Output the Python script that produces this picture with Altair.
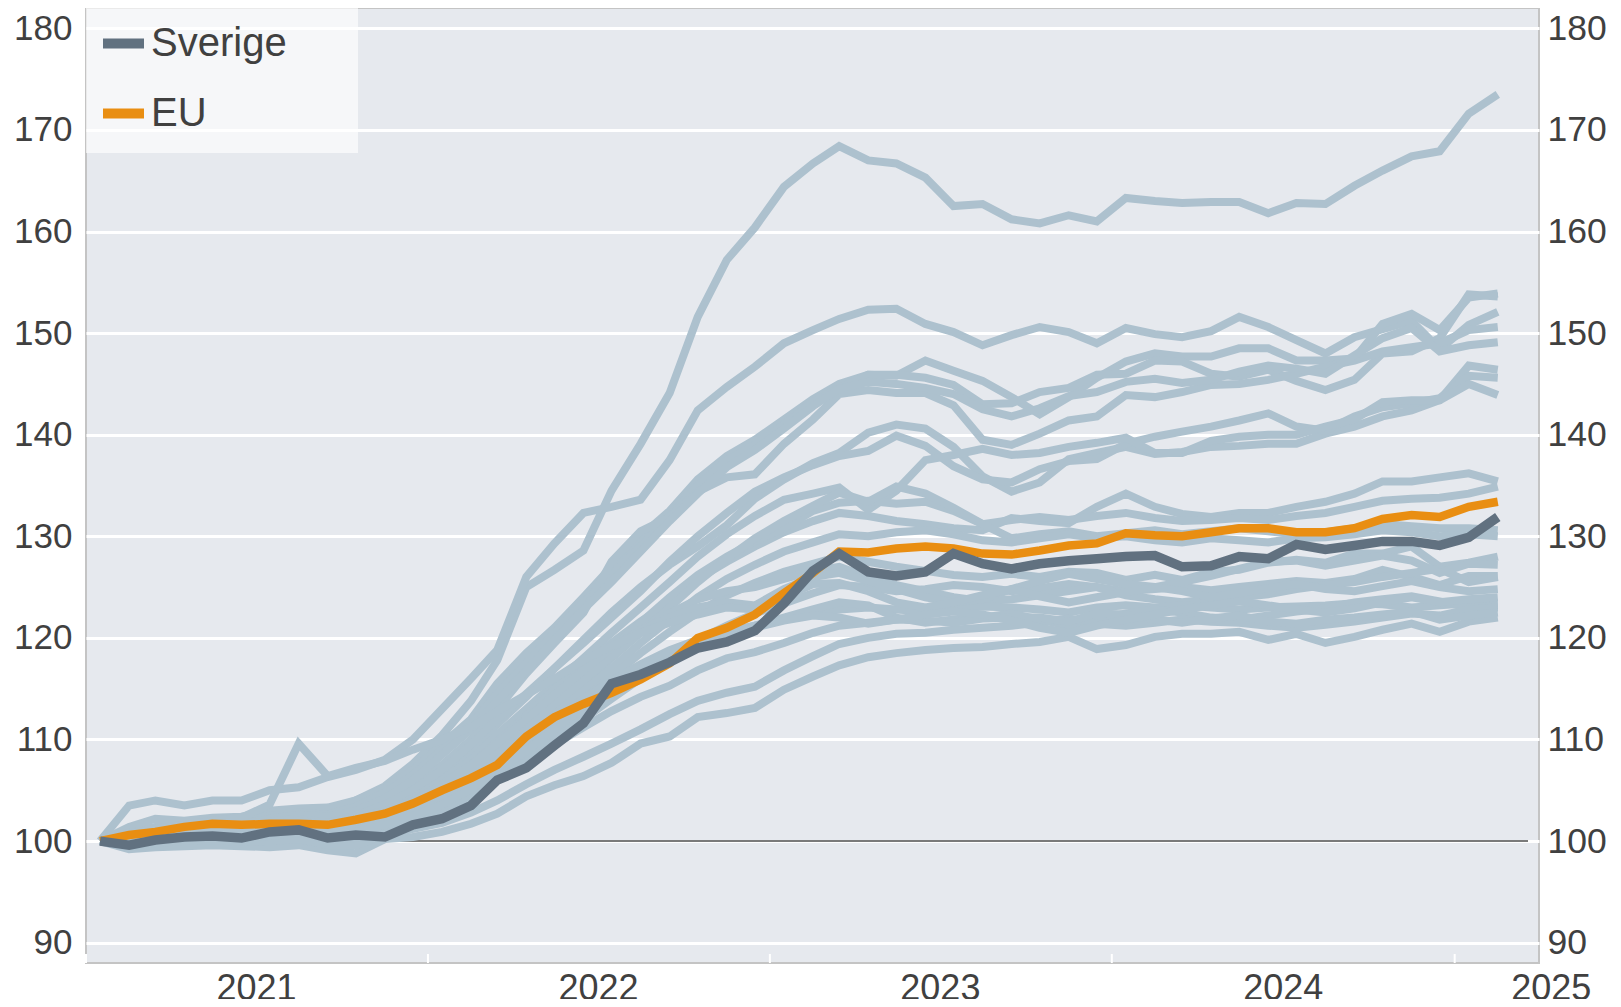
import altair as alt
import pandas as pd

# ---------------- data ----------------
months = [f"{y}-{m:02d}-16" for y in range(2021, 2026) for m in range(1, 13)][:50]

sverige = [100.0, 99.6, 100.1, 100.4, 100.5, 100.3, 100.9, 101.1, 100.3, 100.6, 100.4, 101.6,
           102.2, 103.5, 106.0, 107.2, 109.4, 111.6, 115.5, 116.4, 117.6, 119.0, 119.6, 120.7,
           123.4, 126.6, 128.3, 126.5, 126.1, 126.5, 128.3, 127.3, 126.8, 127.3, 127.6, 127.8,
           128.0, 128.1, 127.0, 127.1, 128.0, 127.8, 129.2, 128.7, 129.1, 129.5, 129.5, 129.1, 129.9, 131.9]
eu = [100.0, 100.6, 100.9, 101.4, 101.7, 101.6, 101.7, 101.7, 101.6, 102.1, 102.7, 103.7,
      105.0, 106.2, 107.5, 110.3, 112.2, 113.5, 114.6, 115.9, 117.5, 120.0, 121.0, 122.3,
      124.4, 126.4, 128.5, 128.4, 128.8, 129.0, 128.8, 128.3, 128.2, 128.6, 129.1, 129.3,
      130.3, 130.1, 130.0, 130.4, 130.8, 130.8, 130.4, 130.4, 130.8, 131.7, 132.1, 131.9, 132.9, 133.4]

line_01 = [100.0, 100.9, 101.4, 101.6, 102.0, 102.2, 102.8, 103.1, 103.0, 104.0, 105.4, 107.6,
           110.4, 113.8, 117.8, 125.0, 126.7, 128.6, 134.5, 139.1, 144.1, 151.6, 157.2, 160.4,
           164.4, 166.7, 168.4, 167.0, 166.7, 165.3, 162.5, 162.7, 161.2, 160.8, 161.6, 161.0,
           163.3, 163.0, 162.8, 162.9, 162.9, 161.8, 162.8, 162.7, 164.5, 166.0, 167.4, 167.9, 171.6, 173.5]
line_02 = [100.0, 103.5, 104.0, 103.5, 104.0, 104.0, 105.0, 105.3, 106.3, 107.0, 108.0, 110.0,
           113.0, 116.0, 118.8, 126.0, 129.3, 132.3, 132.9, 133.6, 137.5, 142.4, 144.7, 146.7,
           149.0, 150.3, 151.4, 152.3, 152.4, 150.9, 150.1, 148.8, 149.8, 150.6, 150.1, 149.0,
           150.5, 149.9, 149.6, 150.2, 151.6, 150.6, 149.3, 148.0, 149.6, 150.4, 151.2, 148.4, 150.8, 152.1]
line_03 = [100.0, 101.4, 102.2, 102.0, 102.3, 102.4, 103.0, 103.2, 103.3, 104.0, 105.2, 107.0,
           109.5, 112.0, 115.5, 118.5, 121.0, 124.0, 127.0, 130.0, 132.5, 135.6, 137.9, 139.5,
           141.5, 143.5, 145.0, 145.9, 145.8, 147.3, 146.3, 145.3, 143.7, 142.0, 143.7, 145.6,
           147.2, 148.0, 147.7, 147.7, 148.5, 148.5, 147.3, 147.3, 147.5, 150.9, 151.9, 150.3, 153.5, 153.9]
line_04 = [100.0, 100.8, 101.2, 101.6, 101.8, 102.0, 102.5, 102.8, 102.6, 103.4, 104.8, 106.5,
           109.0, 111.5, 114.5, 117.5, 120.5, 123.5, 126.2, 129.0, 132.0, 135.0, 137.5, 139.0,
           141.0, 143.2, 144.6, 145.9, 145.9, 145.6, 144.9, 143.0, 143.1, 144.2, 144.6, 145.9,
           146.0, 147.3, 147.2, 146.0, 145.7, 146.4, 145.3, 144.4, 145.4, 148.0, 148.2, 149.5, 153.8, 153.6]
line_05 = [100.0, 100.4, 100.9, 101.3, 101.5, 101.6, 102.0, 102.4, 102.0, 102.6, 103.8, 105.5,
           107.5, 110.0, 113.0, 116.5, 119.5, 122.5, 127.5, 130.5, 131.9, 134.4, 135.8, 136.1,
           139.1, 141.5, 144.0, 144.4, 144.1, 144.1, 142.9, 139.5, 139.0, 140.1, 141.4, 141.8,
           143.9, 143.7, 144.2, 144.9, 145.0, 145.4, 146.0, 146.7, 147.3, 148.2, 148.6, 149.0, 150.3, 150.6]
line_06 = [100.0, 100.6, 101.0, 101.2, 101.5, 101.7, 102.2, 102.6, 102.4, 103.0, 104.2, 106.0,
           108.5, 111.0, 113.8, 116.8, 119.8, 122.8, 125.5, 128.5, 131.5, 134.2, 136.8, 138.5,
           140.6, 142.8, 144.5, 145.2, 145.0, 144.6, 144.0, 142.5, 141.8, 142.6, 143.8, 144.2,
           145.2, 145.5, 145.1, 145.4, 146.2, 146.8, 146.5, 146.0, 147.8, 149.5, 150.5, 148.2, 148.8, 149.1]
line_07 = [100.0, 100.3, 100.6, 100.9, 101.1, 101.2, 101.6, 101.8, 101.6, 102.2, 103.2, 104.6,
           106.5, 108.8, 111.5, 114.2, 117.0, 119.8, 122.5, 125.0, 127.2, 129.0, 131.1, 133.7,
           135.6, 137.2, 138.2, 140.2, 141.0, 140.6, 138.8, 135.9, 134.4, 135.3, 137.6, 138.2,
           138.8, 138.1, 138.3, 138.8, 138.9, 139.1, 139.1, 140.1, 140.8, 141.8, 142.4, 143.4, 146.8, 146.4]
line_08 = [100.0, 100.5, 100.7, 101.0, 101.3, 101.3, 101.8, 102.0, 101.8, 102.5, 103.6, 105.0,
           107.0, 109.5, 112.0, 114.5, 117.0, 119.5, 122.0, 124.6, 127.5, 130.0, 132.3, 134.4,
           135.8, 137.0, 137.9, 138.4, 139.9, 138.9, 136.9, 135.6, 135.3, 136.6, 137.4, 137.6,
           139.1, 139.8, 140.3, 140.8, 141.4, 142.1, 140.8, 140.4, 141.8, 142.7, 143.1, 143.6, 145.8, 145.6]
line_09 = [100.0, 100.2, 100.5, 100.8, 101.0, 101.0, 101.4, 101.6, 101.4, 102.0, 102.9, 104.2,
           106.0, 108.0, 110.5, 113.0, 115.5, 118.0, 120.5, 123.0, 125.5, 128.0, 130.2, 132.0,
           133.6, 134.2, 134.8, 132.6, 134.5, 137.5, 138.0, 138.6, 138.0, 138.2, 138.8, 139.2,
           139.7, 138.2, 138.2, 139.4, 139.8, 140.0, 140.0, 140.8, 141.5, 143.2, 143.4, 143.4, 145.0, 143.9]
line_10 = [100.0, 100.6, 101.0, 101.1, 101.4, 101.3, 101.9, 102.2, 101.8, 102.3, 103.0, 104.0,
           105.5, 107.5, 109.8, 112.3, 115.0, 117.2, 119.5, 121.6, 123.5, 125.8, 127.5, 129.0,
           130.4, 131.5, 132.3, 132.0, 131.5, 131.2, 130.8, 130.6, 131.8, 131.5, 131.3, 132.9,
           134.2, 132.9, 132.2, 131.9, 132.3, 132.3, 132.9, 133.4, 134.2, 135.4, 135.4, 135.8, 136.2, 135.4]
line_11 = [100.0, 100.2, 100.4, 100.7, 100.9, 100.8, 101.3, 101.5, 101.0, 101.6, 102.5, 103.6,
           105.0, 107.0, 109.0, 111.5, 114.0, 116.5, 119.0, 121.5, 124.0, 126.2, 128.0, 129.5,
           130.8, 132.5, 133.3, 133.5, 133.2, 133.4, 132.5, 131.2, 131.6, 131.9, 131.6, 132.0,
           132.3, 131.8, 131.5, 131.6, 131.8, 131.6, 132.0, 132.3, 132.9, 133.5, 133.7, 133.8, 134.2, 134.9]
line_12 = [100.0, 100.0, 100.3, 100.6, 100.8, 100.7, 101.2, 101.5, 100.9, 101.3, 102.2, 103.2,
           104.5, 106.5, 108.5, 110.8, 113.2, 115.5, 118.0, 120.5, 123.0, 125.5, 127.8, 129.8,
           131.5, 133.0, 134.3, 133.4, 134.9, 134.2, 132.8, 131.2, 129.8, 130.2, 130.5, 130.0,
           130.3, 130.6, 130.2, 130.5, 130.8, 130.5, 130.2, 130.4, 130.8, 131.2, 131.0, 130.8, 130.8, 130.6]
line_13 = [100.0, 99.8, 100.2, 100.4, 100.6, 100.5, 100.9, 101.1, 100.6, 101.0, 101.8, 102.8,
           104.0, 105.8, 107.8, 110.0, 112.5, 114.8, 117.0, 119.5, 121.8, 124.0, 125.8, 127.2,
           128.5, 129.4, 130.2, 130.0, 130.4, 130.6, 130.2, 129.6, 129.4, 129.8, 130.2, 129.8,
           130.0, 129.6, 129.4, 129.8, 129.6, 129.4, 129.8, 129.9, 130.2, 130.6, 130.4, 130.0, 130.2, 130.0]
line_14 = [100.0, 100.1, 100.5, 100.7, 100.9, 100.9, 101.3, 101.6, 101.2, 101.4, 102.0, 102.8,
           103.8, 105.5, 107.5, 109.5, 111.8, 114.0, 116.2, 118.5, 120.6, 122.5, 124.2, 125.4,
           126.5, 127.3, 128.0, 127.5, 127.0, 126.6, 126.2, 126.0, 126.3, 126.0, 126.5, 126.4,
           125.7, 126.2, 125.7, 126.5, 126.7, 127.4, 127.7, 127.4, 128.3, 128.3, 129.0, 127.0, 127.4, 128.0]
line_15 = [100.0, 99.6, 99.9, 100.2, 100.4, 100.3, 100.7, 101.0, 100.3, 100.5, 101.0, 101.8,
           102.8, 104.2, 106.0, 108.0, 110.0, 112.0, 114.0, 116.0, 118.0, 119.8, 121.2, 122.4,
           123.4, 124.4, 125.2, 125.0, 124.6, 124.8, 125.2, 125.0, 124.6, 124.9, 125.3, 125.0,
           124.6, 124.8, 125.0, 124.7, 125.0, 125.3, 125.6, 125.4, 125.8, 126.7, 126.0, 125.2, 126.1, 126.1]
line_16 = [100.0, 100.3, 100.6, 100.9, 101.0, 101.1, 101.5, 101.8, 101.5, 101.8, 102.6, 103.5,
           105.0, 106.8, 108.8, 111.0, 113.5, 115.8, 118.2, 120.5, 122.4, 123.8, 124.6, 125.0,
           125.8, 126.6, 127.0, 126.0, 125.2, 124.6, 124.0, 123.6, 123.8, 124.2, 124.6, 125.0,
           124.2, 123.8, 123.5, 123.8, 124.0, 124.3, 124.8, 125.2, 125.5, 126.0, 126.4, 126.8, 125.5, 126.0]
line_17 = [100.0, 99.8, 100.0, 100.3, 100.5, 100.4, 100.8, 101.0, 100.5, 100.8, 101.4, 102.2,
           103.2, 104.6, 106.3, 108.2, 110.2, 112.3, 114.4, 116.4, 118.2, 119.6, 120.6, 121.2,
           121.8, 122.4, 122.8, 123.0, 122.8, 122.6, 122.9, 123.1, 123.0, 122.8, 122.5, 123.0,
           123.2, 123.0, 123.2, 123.0, 122.8, 123.0, 123.1, 123.2, 123.4, 123.3, 123.0, 123.2, 123.4, 123.4]
line_18 = [100.0, 100.0, 100.3, 100.5, 100.7, 100.6, 101.0, 101.2, 100.8, 101.2, 101.9, 102.9,
           104.3, 106.0, 108.0, 110.0, 112.0, 114.0, 115.8, 117.4, 118.8, 119.8, 120.5, 121.2,
           122.0, 122.8, 123.5, 123.2, 122.0, 121.5, 121.8, 122.0, 122.4, 121.8, 121.2, 121.8,
           122.4, 122.8, 122.5, 122.0, 121.8, 122.2, 122.6, 122.9, 123.5, 123.8, 124.1, 123.6, 123.0, 123.2]
line_19 = [100.0, 99.2, 99.4, 99.5, 99.6, 99.5, 99.4, 99.6, 99.1, 98.8, 100.2, 100.4,
           100.9, 101.7, 102.7, 104.4, 105.5, 106.4, 107.7, 109.6, 110.3, 112.2, 112.6, 113.1,
           114.9, 116.2, 117.3, 118.1, 118.5, 118.8, 119.0, 119.1, 119.4, 119.6, 120.1, 118.9,
           119.3, 120.1, 120.4, 120.4, 120.6, 119.8, 120.4, 119.5, 120.1, 120.8, 121.4, 120.6, 121.6, 122.0]
line_20 = [100.0, 99.6, 99.8, 100.0, 100.1, 99.9, 100.0, 100.2, 99.6, 99.6, 100.6, 101.2,
           101.8, 102.8, 104.0, 105.6, 107.0, 108.3, 109.6, 111.0, 112.5, 113.8, 114.6, 115.2,
           116.8, 118.2, 119.4, 120.0, 120.4, 120.5, 120.8, 121.0, 121.2, 121.5, 121.9, 121.4,
           121.2, 121.5, 121.8, 121.6, 121.5, 121.2, 121.0, 121.3, 121.6, 122.0, 122.4, 122.2, 122.8, 123.0]
line_21 = [100.0, 100.2, 100.1, 100.3, 100.5, 100.3, 100.5, 100.8, 100.1, 100.3, 101.1, 101.9,
           103.0, 104.5, 106.0, 107.8, 109.5, 111.2, 112.8, 114.2, 115.3, 116.8, 118.0, 118.6,
           119.5, 120.5, 121.2, 121.5, 121.8, 121.7, 121.5, 121.9, 122.0, 122.0, 121.6, 122.4,
           122.3, 121.8, 121.5, 121.9, 122.2, 121.6, 121.4, 121.8, 122.0, 122.3, 122.6, 121.8, 122.2, 122.5]
line_22 = [100.0, 100.5, 100.8, 101.0, 101.2, 101.2, 101.6, 102.0, 101.6, 101.9, 102.8, 103.9,
           105.6, 107.5, 109.6, 112.0, 114.4, 116.8, 119.0, 120.8, 122.0, 123.0, 123.5, 123.2,
           124.8, 126.0, 126.4, 125.6, 124.8, 124.0, 123.5, 123.8, 124.8, 125.6, 126.3, 125.8,
           125.3, 125.0, 125.5, 126.1, 126.8, 127.5, 127.6, 127.1, 127.6, 128.1, 127.6, 126.4, 127.3, 127.2]
line_23 = [100.0, 100.7, 101.2, 101.6, 102.0, 102.3, 103.6, 109.6, 106.4, 107.2, 107.9, 109.0,
           110.0, 111.2, 112.8, 114.4, 116.0, 117.8, 119.2, 120.5, 121.5, 122.3, 123.0, 122.8,
           124.0, 125.3, 125.4, 124.6, 123.5, 123.0, 123.5, 124.2, 124.8, 124.1, 123.5, 124.0,
           124.5, 125.0, 124.6, 124.0, 124.4, 124.9, 125.3, 124.8, 124.6, 125.1, 125.6, 125.0, 124.6, 124.8]
line_24 = [100.0, 99.9, 100.4, 100.8, 100.9, 100.7, 101.1, 101.4, 100.7, 100.9, 101.6, 102.5,
           103.6, 105.1, 106.9, 108.9, 111.0, 113.1, 115.1, 117.1, 118.6, 119.8, 120.4, 121.0,
           121.7, 122.2, 122.0, 121.4, 121.8, 122.3, 122.6, 122.3, 121.7, 121.0, 120.5, 121.2,
           121.8, 122.3, 122.8, 123.2, 123.6, 123.2, 122.8, 122.5, 122.9, 123.5, 124.0, 123.5, 123.8, 124.0]

other_lines = [line_01, line_02, line_03, line_04, line_05, line_06, line_07, line_08,
               line_09, line_10, line_11, line_12, line_13, line_14, line_15, line_16,
               line_17, line_18, line_19, line_20, line_21, line_22, line_23, line_24]

series_names = ["Sverige", "EU"]
y_ticks = [90, 100, 110, 120, 130, 140, 150, 160, 170, 180]
year_ticks = ["2021-01-01", "2022-01-01", "2023-01-01", "2024-01-01", "2025-01-01"]
year_labels = ["2021", "2022", "2023", "2024", "2025"]
year_label_pos = ["2021-07-02", "2022-07-02", "2023-07-02", "2024-07-02", "2025-04-14"]

# ---------------- style ----------------
W, H = 1453, 955
GRAY = "#adc1ce"
SE_COLOR = "#617180"
EU_COLOR = "#e98e12"
TEXT = "#404040"
FONT = "Liberation Sans"
X_DOMAIN = ["2021-01-01", "2025-04-01"]
Y_DOMAIN = [88, 182]

xs = alt.Scale(domain=X_DOMAIN)
ys = alt.Scale(domain=Y_DOMAIN, nice=False, zero=False)

rows = []
for i, vals in enumerate(other_lines):
    for d, v in zip(months, vals):
        rows.append({"date": d, "value": v, "land": f"L{i+1:02d}"})
gray_df = pd.DataFrame(rows)
hl_df = pd.DataFrame(
    [{"date": d, "value": v, "series": "Sverige"} for d, v in zip(months, sverige)]
    + [{"date": d, "value": v, "series": "EU"} for d, v in zip(months, eu)]
)

left_axis = alt.Axis(orient="left", values=y_ticks, grid=True, gridColor="white", gridWidth=3,
                     domain=False, ticks=False, labelFontSize=35, labelColor=TEXT,
                     labelFont=FONT, labelPadding=14, title=None)
right_axis = alt.Axis(orient="right", values=y_ticks, grid=False, domain=False, ticks=False,
                      labelFontSize=35.5, labelColor=TEXT, labelFont=FONT, labelPadding=8,
                      title=None)

legend_box = alt.Chart(pd.DataFrame({"k": [0]})).mark_rect(
    fill="white", opacity=0.65
).encode(x=alt.value(0), x2=alt.value(272), y=alt.value(0), y2=alt.value(145))

base_rule = alt.Chart(pd.DataFrame({"v": [100]})).mark_rule(
    color="#7a7a7a", strokeWidth=2
).encode(y=alt.Y("v:Q", scale=ys, axis=None), x=alt.value(14), x2=alt.value(W - 11))

gray = alt.Chart(gray_df).mark_line(strokeWidth=8, color=GRAY).encode(
    x=alt.X("date:T", scale=xs, axis=None),
    y=alt.Y("value:Q", scale=ys, axis=left_axis),
    detail="land:N",
)

color_enc = alt.Color(
    "series:N",
    scale=alt.Scale(domain=series_names, range=[SE_COLOR, EU_COLOR]),
    legend=alt.Legend(title=None, orient="none", legendX=12, legendY=10,
                      symbolType="stroke", symbolStrokeWidth=10, symbolSize=1681,
                      labelFontSize=40, labelFont=FONT, labelColor=TEXT,
                      labelOffset=2, rowPadding=24, padding=0),
)

eu_line = alt.Chart(hl_df).transform_filter(alt.datum.series == "EU").mark_line(
    strokeWidth=8.5
).encode(
    x=alt.X("date:T", scale=xs, axis=None),
    y=alt.Y("value:Q", scale=ys, axis=right_axis),
    color=color_enc,
)
se_line = alt.Chart(hl_df).transform_filter(alt.datum.series == "Sverige").mark_line(
    strokeWidth=9.5
).encode(
    x=alt.X("date:T", scale=xs, axis=None),
    y=alt.Y("value:Q", scale=ys, axis=None),
    color=color_enc,
)

ticks = alt.Chart(pd.DataFrame({"date": year_ticks})).mark_rule(
    color="white", strokeWidth=2
).encode(x=alt.X("date:T", scale=xs, axis=None), y=alt.value(H - 9), y2=alt.value(H))

labels = alt.Chart(pd.DataFrame({"date": year_label_pos, "label": year_labels})).mark_text(
    fontSize=36, font=FONT, color=TEXT, baseline="middle", align="center"
).encode(x=alt.X("date:T", scale=xs, axis=None), y=alt.value(H + 26), text="label:N")

chart = alt.layer(
    base_rule, gray, legend_box, eu_line, se_line, ticks, labels
).resolve_axis(y="independent").properties(
    width=W, height=H,
    autosize=alt.AutoSizeParams(type="none"),
    padding={"left": 78, "top": 0, "right": 74, "bottom": 36},
).configure_view(fill="#e6e9ee", stroke="#c4c4c4", strokeWidth=2)

chart.save("out.html", embed_options={"renderer": "svg", "actions": False})
